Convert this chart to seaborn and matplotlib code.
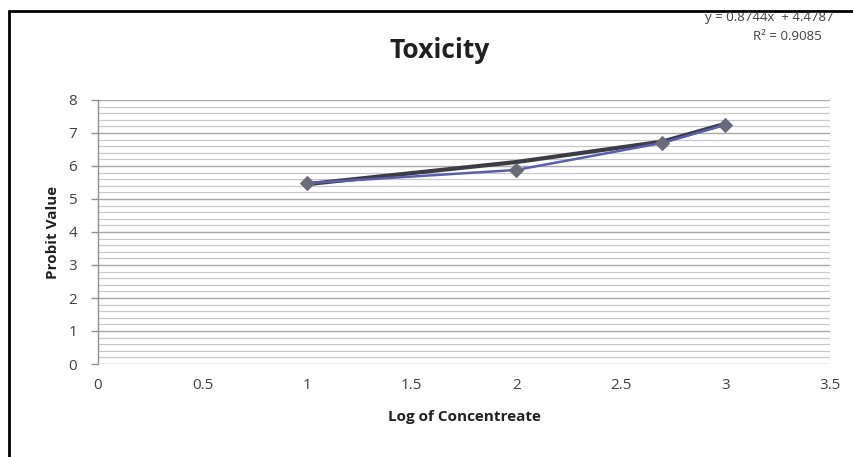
import matplotlib
matplotlib.use("Agg")
import matplotlib.pyplot as plt
import pandas as pd
import seaborn as sns
from matplotlib.lines import Line2D
from matplotlib.ticker import MultipleLocator

# Data
log_conc = [1.0, 2.0, 2.699, 3.0]
probit = [5.48, 5.88, 6.70, 7.25]
trend = [5.45, 6.12, 6.74, 7.28]  # dark grey trend line
x_ticks = [0, 0.5, 1, 1.5, 2, 2.5, 3, 3.5]
x_tick_labels = ["0", "0.5", "1", "1.5", "2", "2.5", "3", "3.5"]
y_ticks = list(range(0, 9))
title = "Toxicity"
x_label = "Log of Concentreate"
y_label = "Probit Value"
eq_text = "y = 0.8744x  + 4.4787"
r2_text = "R\u00b2 = 0.9085"

sns.set_theme(style="white")
plt.rcParams["font.family"] = ["Open Sans", "DejaVu Sans"]

df = pd.DataFrame({"x": log_conc, "y": probit, "trend": trend})

fig = plt.figure(figsize=(8.54, 4.57), dpi=100)
ax = fig.add_axes([98 / 854, 1 - 364 / 457, (830 - 98) / 854, (364 - 100) / 457])

# gridlines (major + minor every 0.2)
ax.yaxis.set_minor_locator(MultipleLocator(0.2))
ax.grid(axis="y", which="minor", color="#c8c8c8", linewidth=0.9)
ax.grid(axis="y", which="major", color="#a8a8a8", linewidth=1.0)
ax.grid(axis="x", visible=False)
ax.set_axisbelow(True)

# trend line (dark grey) and data series (blue, grey markers)
sns.lineplot(data=df, x="x", y="trend", color="#3c3c44", linewidth=3.0, ax=ax)
sns.lineplot(data=df, x="x", y="y", color="#5b5fb0", linewidth=1.8,
             marker="D", markersize=7, markerfacecolor="#6a6a78",
             markeredgecolor="#6a6a78", ax=ax)

ax.set_xlim(0, 3.5)
ax.set_ylim(0, 8)
ax.set_xticks(x_ticks)
ax.set_xticklabels(x_tick_labels)
ax.set_yticks(y_ticks)
ax.tick_params(axis="both", labelsize=11, labelcolor="#404040", length=0, pad=10)
ax.tick_params(axis="y", which="major", left=True, length=5, color="#909090", width=1)

for side in ["top", "right", "bottom"]:
    ax.spines[side].set_visible(False)
ax.spines["left"].set_color("#909090")
ax.spines["left"].set_linewidth(1)

ax.set_xlabel(x_label, fontsize=11, fontweight="bold", color="#202020", labelpad=12)
ax.set_ylabel(y_label, fontsize=11, fontweight="bold", color="#202020", labelpad=6)

fig.text(440 / 854, 1 - 50 / 457, title, ha="center", va="center",
         fontsize=19, fontweight="bold", color="#202020")
fig.text(705 / 854, 1 - 18 / 457, eq_text, ha="left", va="center",
         fontsize=9.5, color="#404040")
fig.text(787 / 854, 1 - 36 / 457, r2_text, ha="center", va="center",
         fontsize=9.5, color="#404040")

# outer frame (left and top edges visible)
fig.add_artist(Line2D([9 / 854, 9 / 854], [0, 1 - 11 / 457], color="black",
                      linewidth=2.0, transform=fig.transFigure))
fig.add_artist(Line2D([9 / 854, 1], [1 - 11 / 457, 1 - 11 / 457], color="black",
                      linewidth=2.0, transform=fig.transFigure))

fig.savefig("out.png", dpi=100)
